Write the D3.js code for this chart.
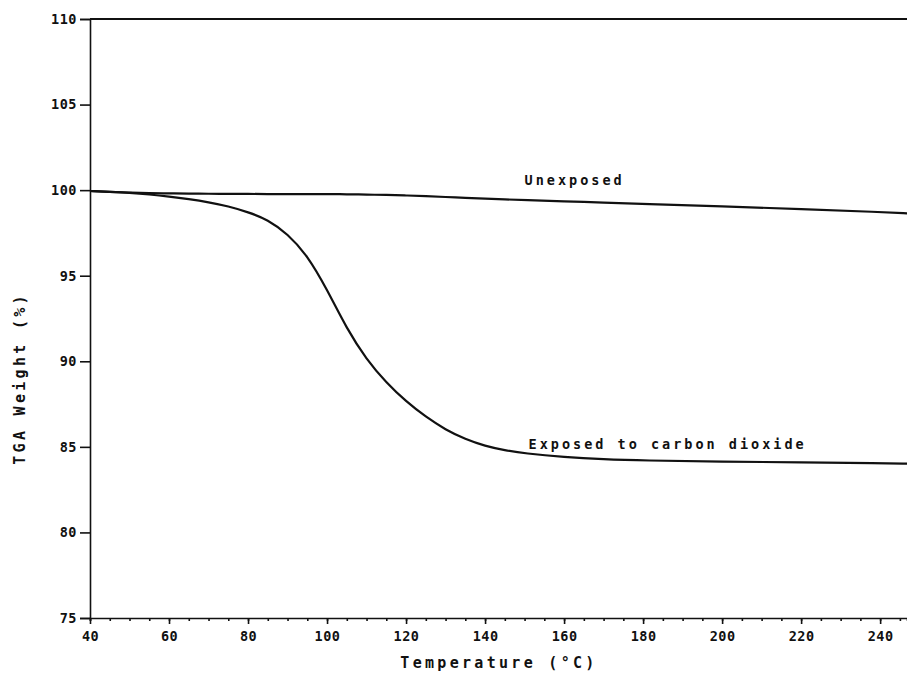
<!DOCTYPE html>
<html>
<head>
<meta charset="utf-8">
<script src="https://cdn.jsdelivr.net/npm/d3@7"></script>
<style>
  body { margin: 0; background: #fff; }
  text { font-family: "DejaVu Sans Mono", monospace; font-weight: bold; fill: #111; }
</style>
</head>
<body>
<div id="chart"></div>
<script>
// data (temperature in degC, TGA weight in %)
var temps     = [40, 45, 50, 55, 60, 65, 70, 75, 80, 85, 90, 95, 100, 105, 110, 115, 120, 125, 130, 135, 140, 145, 150, 160, 170, 180, 200, 220, 240, 247];
var exposed   = [99.95, 99.9, 99.84, 99.75, 99.63, 99.48, 99.3, 99.06, 98.72, 98.28, 97.45, 96.2, 94.2, 91.9, 90.1, 88.75, 87.65, 86.75, 86.0, 85.45, 85.05, 84.8, 84.62, 84.4, 84.27, 84.2, 84.14, 84.09, 84.04, 84.02];
var unexposed = [99.95, 99.9, 99.86, 99.83, 99.81, 99.8, 99.79, 99.78, 99.78, 99.77, 99.77, 99.77, 99.77, 99.76, 99.74, 99.72, 99.69, 99.65, 99.6, 99.55, 99.5, 99.46, 99.42, 99.35, 99.27, 99.2, 99.05, 98.9, 98.72, 98.64];
var xTicks = [40, 60, 80, 100, 120, 140, 160, 180, 200, 220, 240];
var yTicks = [75, 80, 85, 90, 95, 100, 105, 110];

// set the dimensions and margins of the graph
var margin = {top: 19, right: 0, bottom: 56, left: 90},
    width = 907 - margin.left - margin.right,
    height = 674 - margin.top - margin.bottom;

var x = d3.scaleLinear()
          .domain([40, 246.8])
          .range([0, width]);

var y = d3.scaleLinear()
          .domain([75, 110])
          .range([height, 0]);

var svg = d3.select("#chart")
    .append("svg")
    .attr("width", width + margin.left + margin.right)
    .attr("height", height + margin.top + margin.bottom)
    .append("g")
    .attr("transform", "translate(" + margin.left + "," + margin.top + ")");

// x axis: major ticks with labels, minor every 5
svg.append("g")
    .attr("transform", "translate(0," + height + ")")
    .call(d3.axisBottom(x).tickValues(d3.range(40, 247, 5)).tickSize(3).tickFormat(""));
svg.append("g")
    .attr("transform", "translate(0," + height + ")")
    .call(d3.axisBottom(x).tickValues(xTicks).tickSize(6).tickPadding(7).tickFormat(d3.format("d")))
    .call(function(g) { g.select(".domain").remove(); })
    .selectAll("text")
    .style("font-size", "13.5px")
    .attr("letter-spacing", "0.5px")
    .attr("fill", "#111");

svg.append("g")
    .call(d3.axisLeft(y).tickValues(yTicks).tickSize(10).tickPadding(3).tickFormat(d3.format("d")))
    .selectAll("text")
    .style("font-size", "13.5px")
    .attr("letter-spacing", "0.5px")
    .attr("fill", "#111");

svg.selectAll(".domain, .tick line")
    .attr("stroke", "#111")
    .attr("stroke-width", 1.6);

// top border at 110
svg.append("line")
    .attr("x1", 0).attr("x2", width)
    .attr("y1", y(110)).attr("y2", y(110))
    .attr("stroke", "#111")
    .attr("stroke-width", 1.8);

var line = d3.line()
    .x(function(d) { return x(d[0]); })
    .y(function(d) { return y(d[1]); })
    .curve(d3.curveBasis);

[unexposed, exposed].forEach(function(s) {
  svg.append("path")
      .datum(temps.map(function(t, i) { return [t, s[i]]; }))
      .attr("fill", "none")
      .attr("stroke", "#111")
      .attr("stroke-width", 2.2)
      .attr("d", line);
});

// curve labels
svg.append("text")
    .attr("x", x(150))
    .attr("y", y(100.3))
    .style("font-size", "13.5px")
    .attr("letter-spacing", "3px")
    .text("Unexposed");

svg.append("text")
    .attr("x", x(151))
    .attr("y", y(84.9))
    .style("font-size", "13.5px")
    .attr("letter-spacing", "3px")
    .text("Exposed to carbon dioxide");

// axis titles
svg.append("text")
    .attr("x", 499 - margin.left)
    .attr("y", height + 50)
    .attr("text-anchor", "middle")
    .style("font-size", "15px")
    .attr("letter-spacing", "3.3px")
    .text("Temperature (°C)");

svg.append("text")
    .attr("transform", "translate(" + (25 - margin.left) + "," + y(89) + ") rotate(-90)")
    .attr("text-anchor", "middle")
    .style("font-size", "15px")
    .attr("letter-spacing", "3.3px")
    .text("TGA Weight (%)");
</script>
</body>
</html>
